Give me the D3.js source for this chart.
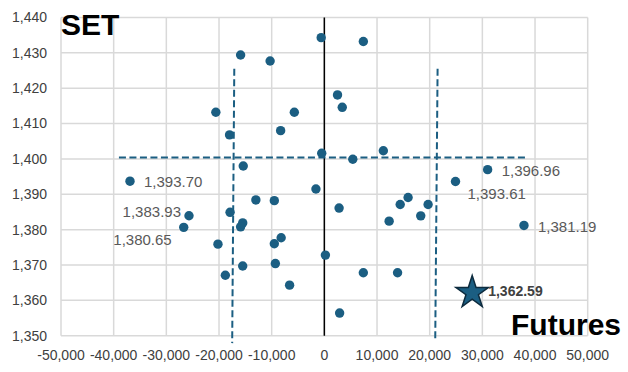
<!DOCTYPE html>
<html><head><meta charset="utf-8">
<script src="https://cdn.jsdelivr.net/npm/d3@7"></script>
<style>body{margin:0;background:#fff}svg{display:block;font-family:"Liberation Sans",Arial,sans-serif}</style>
</head><body><svg id="c" width="628" height="372"></svg>
<script>
// Data
const futures = [-15900,-10300,-600,7400,-20600,-5700,2500,3400,-18000,-8300,-500,5400,11200,-15400,-36900,31000,24900,-1600,-13000,-9500,2800,15900,14400,19700,12300,18300,37900,-25700,-26700,-17900,-15500,-15900,-20200,-9500,-8200,-9300,-15500,-18800,-6600,200,7400,13900,2900];
const setIdx  = [1429.4,1427.7,1434.3,1433.2,1413.2,1413.2,1418.1,1414.6,1406.8,1408.0,1401.6,1399.9,1402.3,1398.0,1393.70,1396.96,1393.61,1391.5,1388.4,1388.2,1386.1,1389.1,1387.1,1387.1,1382.4,1383.9,1381.19,1383.93,1380.65,1384.9,1381.9,1380.8,1375.9,1376.0,1377.7,1370.4,1369.7,1367.1,1364.3,1372.8,1367.8,1367.8,1356.4];
const labelled = [14,15,16,26,27,28]; // indices of points with value labels
const labelPlace = {14:"right",15:"right",16:"belowright",26:"right",27:"left",28:"belowleft"};
const current = {futures:28070, set:1362.59};
const xTicks = [-50000,-40000,-30000,-20000,-10000,0,10000,20000,30000,40000,50000];
const yTicks = [1350,1360,1370,1380,1390,1400,1410,1420,1430,1440];
const hLine = {x1:-39000, x2:38500, y:1400.4};
const vLines = [{x1:-17100,y1:1425.5,x2:-17500,y2:1347.9},{x1:21500,y1:1425.5,x2:21050,y2:1348.3}];

const svg = d3.select("#c");
const x = d3.scaleLinear().domain([-50000,50000]).range([61,587.7]);
const y = d3.scaleLinear().domain([1350,1440]).range([335.7,17.5]);
const loc = d3.formatLocale({decimal:".",thousands:",",grouping:[3],currency:["",""],minus:"-"});
const fmt = loc.format(",");
const fmt2 = loc.format(",.2f");
const blue = "#1b5e82";

// grid
svg.append("g").selectAll("line").data(xTicks).join("line")
  .attr("x1",d=>x(d)).attr("x2",d=>x(d)).attr("y1",y(1350)).attr("y2",y(1440))
  .attr("stroke","#d9d9d9").attr("stroke-width",1.5);
svg.append("g").selectAll("line").data(yTicks).join("line")
  .attr("y1",d=>y(d)).attr("y2",d=>y(d)).attr("x1",x(-50000)).attr("x2",x(50000))
  .attr("stroke","#d9d9d9").attr("stroke-width",1.5);

// axes labels
svg.append("g").selectAll("text").data(yTicks).join("text")
  .attr("x",47).attr("y",d=>y(d)).attr("dy","0.35em").attr("text-anchor","end")
  .attr("font-size",14).attr("fill","#404040").text(d=>fmt(d));
svg.append("g").selectAll("text").data(xTicks).join("text")
  .attr("x",d=>x(d)).attr("y",355).attr("dy","0.35em").attr("text-anchor","middle")
  .attr("font-size",14).attr("fill","#404040").text(d=>fmt(d));

// zero line
svg.append("line").attr("x1",x(0)).attr("x2",x(0)).attr("y1",y(1440)).attr("y2",y(1350))
  .attr("stroke","#000").attr("stroke-width",1.5);

// dashed lines
svg.append("line").attr("x1",x(hLine.x1)).attr("x2",x(hLine.x2)).attr("y1",y(hLine.y)).attr("y2",y(hLine.y))
  .attr("stroke",blue).attr("stroke-width",2).attr("stroke-dasharray","7,3.5");
svg.append("g").selectAll("line").data(vLines).join("line")
  .attr("x1",d=>x(d.x1)).attr("x2",d=>x(d.x2)).attr("y1",d=>y(d.y1)).attr("y2",d=>y(d.y2))
  .attr("stroke",blue).attr("stroke-width",2).attr("stroke-dasharray","7,3.5");

// points
const pts = futures.map((f,i)=>({f, s:setIdx[i], i}));
svg.append("g").selectAll("circle").data(pts).join("circle")
  .attr("cx",d=>x(d.f)).attr("cy",d=>y(d.s)).attr("r",4.7).attr("fill",blue);

// labels
const off = {right:[14,1,"start"], belowright:[12,12,"start"], left:[-8,-4,"end"], belowleft:[-12,12,"end"]};
svg.append("g").selectAll("text").data(labelled.map(i=>pts[i])).join("text")
  .attr("x",d=>x(d.f)+off[labelPlace[d.i]][0]).attr("y",d=>y(d.s)+off[labelPlace[d.i]][1])
  .attr("dy","0.35em").attr("text-anchor",d=>off[labelPlace[d.i]][2])
  .attr("font-size",15).attr("fill","#595959").text(d=>fmt2(d.s));

// current star
svg.append("path").attr("d",d3.symbol(d3.symbolStar,330)())
  .attr("transform",`translate(${x(current.futures)},${y(current.set)+1.5})`)
  .attr("fill",blue).attr("stroke","#0d2b3e").attr("stroke-width",1.5);
svg.append("text").attr("x",x(current.futures)+16).attr("y",y(current.set)).attr("dy","0.35em")
  .attr("font-size",14).attr("font-weight","bold").attr("fill","#404040").text(fmt2(current.set));

// titles
svg.append("text").attr("x",61).attr("y",35).attr("font-size",30).attr("font-weight","bold").attr("fill","#000").text("SET");
svg.append("text").attr("x",621).attr("y",335).attr("text-anchor","end").attr("font-size",30).attr("font-weight","bold").attr("fill","#000").text("Futures");
</script></body></html>
